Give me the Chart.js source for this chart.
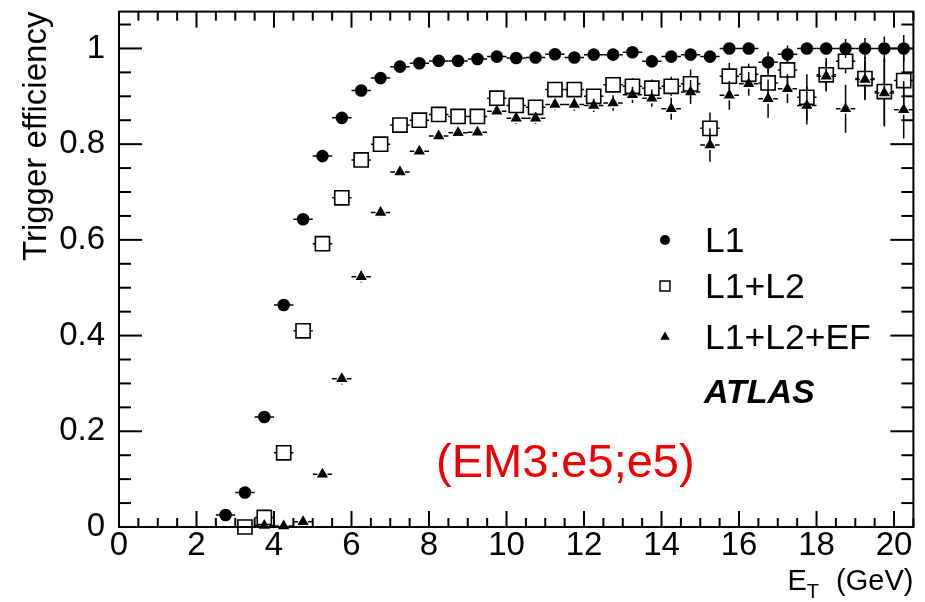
<!DOCTYPE html>
<html>
<head>
<meta charset="utf-8">
<script src="https://cdn.jsdelivr.net/npm/chart.js@4.4.1/dist/chart.umd.min.js"></script>
<style>
  html, body { margin: 0; padding: 0; background: #fff; }
  canvas { display: block; }
</style>
</head>
<body>
<canvas id="effChart" width="925" height="602"></canvas>
<script>
// Bin centres in E_T (GeV), 0.5 GeV wide bins
const etBins = [2.75, 3.25, 3.75, 4.25, 4.75, 5.25, 5.75, 6.25, 6.75, 7.25, 7.75, 8.25,
                8.75, 9.25, 9.75, 10.25, 10.75, 11.25, 11.75, 12.25, 12.75, 13.25, 13.75, 14.25,
                14.75, 15.25, 15.75, 16.25, 16.75, 17.25, 17.75, 18.25, 18.75, 19.25, 19.75, 20.25];
const binHalfWidth = 0.25;

// Efficiencies per trigger level (null = empty bin)
const effL1 = [0.025, 0.072, 0.23, 0.464, 0.643, 0.775, 0.855, 0.912, 0.938, 0.962, 0.969, 0.974,
               0.974, 0.978, 0.983, 0.980, 0.981, 0.988, 0.981, 0.987, 0.987, 0.992, 0.973, 0.983,
               0.987, 0.983, 1.0, 1.0, 0.971, 0.988, 1.0, 1.0, 1.0, 1.0, 1.0, 1.0];
const errL1 = [0.004, 0.005, 0.007, 0.008, 0.008, 0.007, 0.006, 0.005, 0.005, 0.004, 0.004, 0.004,
               0.004, 0.004, 0.004, 0.004, 0.004, 0.004, 0.004, 0.004, 0.005, 0.005, 0.006, 0.006,
               0.007, 0.010, 0.008, 0.008, 0.022, 0.018, 0.010, 0.012, 0.020, 0.022, 0.025, 0.028];

const effL2 = [null, 0.0, 0.02, 0.155, 0.41, 0.592, 0.688, 0.767, 0.80, 0.84, 0.85, 0.862,
               0.858, 0.858, 0.896, 0.881, 0.877, 0.914, 0.914, 0.90, 0.924, 0.921, 0.917, 0.921,
               0.926, 0.833, 0.942, 0.946, 0.928, 0.955, 0.898, 0.945, 0.973, 0.937, 0.91, 0.933];
const errL2 = [null, 0.003, 0.005, 0.010, 0.012, 0.012, 0.011, 0.010, 0.009, 0.008, 0.008, 0.008,
               0.008, 0.009, 0.010, 0.010, 0.011, 0.012, 0.012, 0.014, 0.016, 0.017, 0.018, 0.020,
               0.030, 0.033, 0.028, 0.022, 0.030, 0.030, 0.048, 0.035, 0.025, 0.045, 0.070, 0.060];

const effEF = [null, null, 0.003, 0.002, 0.011, 0.11, 0.31, 0.523, 0.657, 0.742, 0.785, 0.817,
               0.824, 0.825, 0.869, 0.854, 0.854, 0.883, 0.883, 0.881, 0.886, 0.903, 0.896, 0.874,
               0.909, 0.798, 0.902, 0.926, 0.895, 0.916, 0.881, 0.942, 0.874, 0.935, 0.907, 0.872];
const errEF = [null, null, 0.002, 0.002, 0.004, 0.010, 0.012, 0.012, 0.011, 0.010, 0.010, 0.010,
               0.010, 0.010, 0.011, 0.012, 0.012, 0.012, 0.013, 0.014, 0.016, 0.017, 0.018, 0.023,
               0.025, 0.035, 0.030, 0.025, 0.040, 0.030, 0.040, 0.030, 0.050, 0.040, 0.070, 0.060];

// Axis ranges, tick spacing and labels
const X_MAX = 20.5;
const Y_MAX = 1.077;
const xMajorTicks = [0, 2, 4, 6, 8, 10, 12, 14, 16, 18, 20];
const xMinorTicks = [0.5, 1, 1.5, 2.5, 3, 3.5, 4.5, 5, 5.5, 6.5, 7, 7.5, 8.5, 9, 9.5, 10.5, 11, 11.5,
                     12.5, 13, 13.5, 14.5, 15, 15.5, 16.5, 17, 17.5, 18.5, 19, 19.5, 20.5];
const yMajorTicks = [0, 0.2, 0.4, 0.6, 0.8, 1];
const yMinorTicks = [0.05, 0.1, 0.15, 0.25, 0.3, 0.35, 0.45, 0.5, 0.55, 0.65, 0.7, 0.75,
                     0.85, 0.9, 0.95, 1.05];
const seriesNames = ['L1', 'L1+L2', 'L1+L2+EF'];
const xTitle = ['E', 'T', '(GeV)'];
const yTitle = 'Trigger efficiency';
const expLabel = 'ATLAS';
const chainLabel = '(EM3:e5;e5)';

const FONT = "'Liberation Sans', Arial, Helvetica, sans-serif";

function toPoints(vals, errs) {
    return etBins
        .map((x, i) => ({ x: x, y: vals[i], err: errs[i] }))
        .filter(p => p.y !== null);
}

// Error bars ROOT style: lines stop at the marker edge
const errorBars = {
    id: 'errorBars',
    beforeDatasetsDraw(chart) {
        const { ctx, scales: { x, y } } = chart;
        ctx.save();
        ctx.strokeStyle = '#000';
        ctx.lineWidth = 1.5;
        chart.data.datasets.forEach(ds => {
            const gap = ds.errGap;
            ds.data.forEach(p => {
                const cx = x.getPixelForValue(p.x);
                const cy = y.getPixelForValue(p.y);
                const xl = x.getPixelForValue(p.x - binHalfWidth);
                const xr = x.getPixelForValue(p.x + binHalfWidth);
                const yt = y.getPixelForValue(p.y + p.err);
                const yb = y.getPixelForValue(Math.max(0, p.y - p.err));
                ctx.beginPath();
                if (cx - xl > gap) {
                    ctx.moveTo(xl, cy); ctx.lineTo(cx - gap, cy);
                    ctx.moveTo(cx + gap, cy); ctx.lineTo(xr, cy);
                }
                if (cy - yt > gap) { ctx.moveTo(cx, cy - gap); ctx.lineTo(cx, yt); }
                if (yb - cy > gap) { ctx.moveTo(cx, cy + gap); ctx.lineTo(cx, yb); }
                ctx.stroke();
            });
        });
        ctx.restore();
    }
};

// Frame with inward ticks on all four sides, plus legend and titles
const frameAndText = {
    id: 'frameAndText',
    afterDraw(chart) {
        const { ctx, chartArea: a } = chart;
        const { x, y } = chart.scales;
        ctx.save();
        ctx.strokeStyle = '#000';
        ctx.lineWidth = 2;
        ctx.lineCap = 'butt';

        const tick = (x1, y1, x2, y2) => {
            ctx.beginPath();
            ctx.moveTo(x1, y1);
            ctx.lineTo(x2, y2);
            ctx.stroke();
        };
        xMajorTicks.forEach(v => {
            const px = x.getPixelForValue(v);
            tick(px, a.bottom, px, a.bottom - 16);
            tick(px, a.top, px, a.top + 16);
        });
        xMinorTicks.forEach(v => {
            const px = x.getPixelForValue(v);
            tick(px, a.bottom, px, a.bottom - 9);
            tick(px, a.top, px, a.top + 9);
        });
        yMajorTicks.forEach(v => {
            const py = y.getPixelForValue(v);
            tick(a.left, py, a.left + 23, py);
            tick(a.right, py, a.right - 23, py);
        });
        yMinorTicks.forEach(v => {
            const py = y.getPixelForValue(v);
            tick(a.left, py, a.left + 12, py);
            tick(a.right, py, a.right - 12, py);
        });
        ctx.strokeRect(a.left, a.top, a.right - a.left, a.bottom - a.top);

        // legend
        ctx.fillStyle = '#000';
        ctx.textBaseline = 'middle';
        ctx.textAlign = 'left';
        const rows = [240, 286, 337];
        const keys = [
            { pointStyle: 'circle', radius: 5, borderWidth: 0, fill: '#000' },
            { pointStyle: 'rect', radius: 7, borderWidth: 1.5, fill: 'rgba(0,0,0,0)' },
            { pointStyle: 'triangle', radius: 5.5, borderWidth: 0, fill: '#000' }
        ];
        keys.forEach((k, i) => {
            ctx.fillStyle = k.fill;
            ctx.lineWidth = k.borderWidth;
            Chart.helpers.drawPoint(ctx, { pointStyle: k.pointStyle, radius: k.radius, rotation: 0, borderWidth: k.borderWidth }, 665, rows[i]);
            ctx.fillStyle = '#000';
            ctx.font = '35.5px ' + FONT;
            ctx.fillText(seriesNames[i], 705, rows[i] + 2);
        });

        ctx.font = 'italic bold 34px ' + FONT;
        ctx.fillText(expLabel, 704, 394);

        ctx.textBaseline = 'alphabetic';
        ctx.fillStyle = 'rgb(240, 0, 0)';
        ctx.font = '47px ' + FONT;
        ctx.fillText(chainLabel, 436, 477);

        // y title, rotated, ending at the top of the frame
        ctx.fillStyle = '#000';
        ctx.save();
        ctx.translate(46, a.top);
        ctx.rotate(-Math.PI / 2);
        ctx.textAlign = 'right';
        ctx.font = '33px ' + FONT;
        ctx.fillText(yTitle, 0, 0);
        ctx.restore();

        // E_T (GeV), right-aligned to the frame
        const big = '29px ' + FONT, small = '20px ' + FONT;
        const ty = 590;
        ctx.font = big;
        const wE = ctx.measureText(xTitle[0]).width;
        const wUnit = ctx.measureText(xTitle[2]).width;
        ctx.font = small;
        const wT = ctx.measureText(xTitle[1]).width;
        const unitX = a.right - wUnit;
        const eX = unitX - 17 - wT - wE;
        ctx.font = big;
        ctx.fillText(xTitle[0], eX, ty);
        ctx.fillText(xTitle[2], unitX, ty);
        ctx.font = small;
        ctx.fillText(xTitle[1], eX + wE, ty + 8);
        ctx.restore();
    }
};

function createEfficiencyChart(ctx) {
    return new Chart(ctx, {
        type: 'scatter',
        data: {
            datasets: [{
                label: seriesNames[0],
                data: toPoints(effL1, errL1),
                pointStyle: 'circle',
                pointRadius: 6.3,
                backgroundColor: '#000',
                borderWidth: 0,
                errGap: 6,
                clip: false
            }, {
                label: seriesNames[1],
                data: toPoints(effL2, errL2),
                pointStyle: 'rect',
                pointRadius: 10,
                backgroundColor: 'rgba(0,0,0,0)',
                borderColor: '#000',
                borderWidth: 1.6,
                errGap: 7,
                clip: false
            }, {
                label: seriesNames[2],
                data: toPoints(effEF, errEF),
                pointStyle: 'triangle',
                pointRadius: 6.5,
                backgroundColor: '#000',
                borderWidth: 0,
                errGap: 5,
                clip: false
            }]
        },
        options: {
            responsive: false,
            animation: false,
            events: [],
            layout: { padding: { top: 10, right: 6, left: 0, bottom: 0 } },
            plugins: {
                legend: { display: false },
                tooltip: { enabled: false }
            },
            scales: {
                x: {
                    type: 'linear',
                    min: 0,
                    max: X_MAX,
                    grid: { display: false },
                    border: { display: false },
                    afterBuildTicks: s => { s.ticks = xMajorTicks.map(v => ({ value: v })); },
                    afterFit: s => {
                        s.height = 75;
                        s.paddingLeft = 0;
                        s.paddingRight = 0;
                    },
                    ticks: {
                        color: '#000',
                        font: { family: FONT, size: 33 },
                        padding: -9,
                        maxRotation: 0,
                        autoSkip: false,
                        callback: v => String(v)
                    }
                },
                y: {
                    type: 'linear',
                    min: 0,
                    max: Y_MAX,
                    grid: { display: false },
                    border: { display: false },
                    afterBuildTicks: s => { s.ticks = yMajorTicks.map(v => ({ value: v })); },
                    afterFit: s => {
                        s.width = 119;
                        s.paddingTop = 0;
                        s.paddingBottom = 0;
                    },
                    ticks: {
                        color: '#000',
                        font: { family: FONT, size: 33 },
                        padding: 6,
                        autoSkip: false,
                        callback: v => String(+v.toFixed(1))
                    }
                }
            }
        },
        plugins: [errorBars, frameAndText]
    });
}

createEfficiencyChart(document.getElementById('effChart'));
</script>
</body>
</html>
